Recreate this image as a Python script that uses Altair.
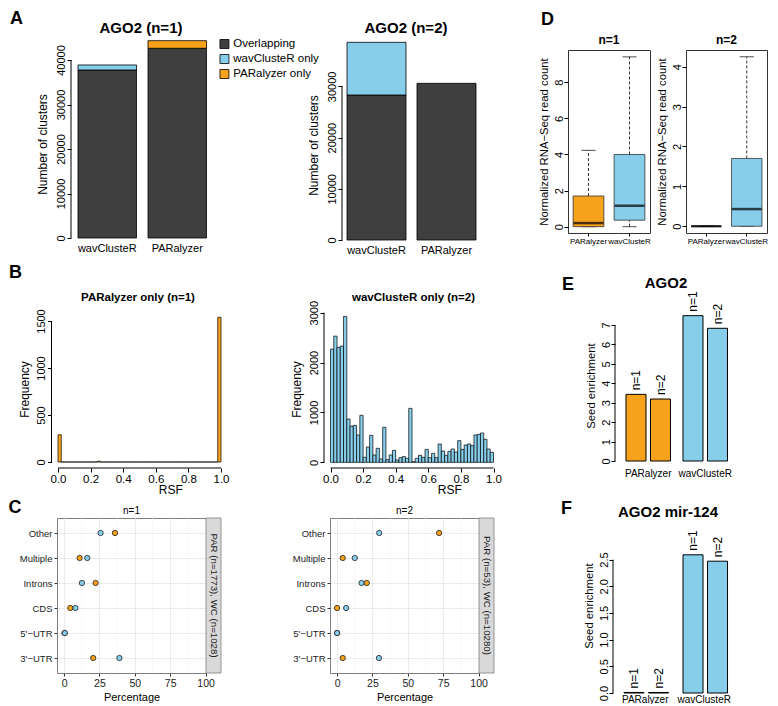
import altair as alt
import pandas as pd

FONT = "Liberation Sans"
ORANGE = "#F7A21B"
BLUE = "#87CEEB"
DARK = "#3F3F3F"

# ---------------- A: number of clusters ----------------
a_methods = ["wavClusteR", "PARalyzer"]
a_categories = ["Overlapping", "wavClusteR only", "PARalyzer only"]
a1_overlapping = [37750, 42630]
a1_wav_only = [1130, 0]
a1_par_only = [0, 1710]
a2_overlapping = [28320, 30600]
a2_wav_only = [10290, 0]
a2_par_only = [0, 0]
a1_yticks = [0, 10000, 20000, 30000, 40000]
a2_yticks = [0, 10000, 20000, 30000]

# ---------------- B: RSF histograms ----------------
b_bin_width = 0.02
b1_counts = [290, 0, 0, 0, 0, 0, 0, 0, 0, 0,
             0, 0, 8, 0, 0, 0, 0, 0, 0, 0,
             0, 0, 0, 0, 0, 0, 0, 0, 0, 0,
             0, 0, 0, 0, 0, 0, 0, 0, 0, 0,
             0, 0, 0, 0, 0, 0, 0, 0, 0, 1540]
b2_counts = [2270, 2530, 2305, 2330, 2925, 868, 728, 741, 548, 942,
             100, 307, 541, 147, 281, 67, 701, 53, 147, 240,
             47, 94, 114, 80, 1082, 13, 80, 140, 100, 260,
             94, 180, 94, 367, 227, 140, 220, 267, 207, 434,
             260, 347, 367, 334, 548, 561, 588, 461, 267, 200]
b1_yticks = [0, 500, 1000, 1500]
b2_yticks = [0, 1000, 2000, 3000]
b_xticks = [0.0, 0.2, 0.4, 0.6, 0.8, 1.0]

# ---------------- C: genomic regions ----------------
c_regions = ["Other", "Multiple", "Introns", "CDS", "5'\u2212UTR", "3'\u2212UTR"]
c1_par = [36.0, 11.0, 22.3, 4.4, 0.3, 20.6]
c1_wc = [25.8, 16.4, 12.6, 8.0, 0.5, 39.1]
c2_par = [72.1, 4.0, 21.0, 0.0, 0.0, 4.0]
c2_wc = [29.8, 12.5, 17.3, 6.4, 0.0, 29.6]
c_xticks = [0, 25, 50, 75, 100]
c_minor = [12.5, 37.5, 62.5, 87.5]
c1_strip = "PAR (n=1773), WC (n=1028)"
c2_strip = "PAR (n=53), WC (n=10280)"

# ---------------- D: RNA-Seq boxplots ----------------
d_methods = ["PARalyzer", "wavClusteR"]
d1_low = [0.0, 0.0]
d1_q1 = [0.0, 0.36]
d1_median = [0.2, 1.16]
d1_q3 = [1.7, 4.0]
d1_high = [4.23, 9.41]
d2_low = [0.0, 0.0]
d2_q1 = [0.0, 0.0]
d2_median = [0.0, 0.43]
d2_q3 = [0.0, 1.7]
d2_high = [0.0, 4.25]
d1_yticks = [0, 2, 4, 6, 8]
d2_yticks = [0, 1, 2, 3, 4]

# ---------------- E/F: seed enrichment ----------------
ef_methods = ["PARalyzer", "wavClusteR"]
ef_runs = ["n=1", "n=2"]
e_par = [3.43, 3.19]
e_wav = [7.48, 6.83]
f_par = [0.01, 0.01]
f_wav = [2.59, 2.47]
e_yticks = [0, 1, 2, 3, 4, 5, 6, 7]
f_yticks = [0.0, 0.5, 1.0, 1.5, 2.0, 2.5]


def y_axis(title, values, fmt=None, title_pad=4, label_size=11, title_size=12,
           offset=0, tick=4, label_pad=1):
    kw = dict(title=title, values=values, domain=False, grid=False, ticks=True,
              tickSize=tick, tickColor="black", tickWidth=1, labelAngle=-90,
              labelAlign="center", labelBaseline="bottom", labelPadding=label_pad,
              labelFontSize=label_size, labelColor="black", labelFlush=False,
              labelOverlap=False, titleFontSize=title_size, titleFontWeight="normal",
              titleColor="black", titlePadding=title_pad, offset=offset)
    if fmt:
        kw["format"] = fmt
    return alt.Axis(**kw)


def text_mark(txt, x, y, size, weight="bold", align="center", baseline="alphabetic"):
    return alt.Chart(pd.DataFrame({"t": [txt]})).mark_text(
        fontSize=size, fontWeight=weight, align=align, baseline=baseline, color="black"
    ).encode(text="t:N", x=alt.value(x), y=alt.value(y))


def letter(ch, x, y):
    return text_mark(ch, x, y, 18, "bold", "left", "top")


def y_line(lo, hi, scale, axis, xpx=0):
    return alt.Chart(pd.DataFrame({"lo": [lo], "hi": [hi]})).mark_rule(
        color="black", strokeWidth=1
    ).encode(x=alt.value(xpx), y=alt.Y("lo:Q", scale=scale, axis=axis), y2="hi:Q")


# ---------------- panel builders ----------------
def panel_a(overl, wav, par, yticks, title, title_x, width, height, ymax, band,
            axis_shift, legend_x=None, letter_spec=None):
    rows = []
    for i, m in enumerate(a_methods):
        for k, vals in enumerate([overl, wav, par]):
            if vals[i] > 0:
                rows.append({"method": m, "category": a_categories[k],
                             "value": vals[i], "order": k})
    df = pd.DataFrame(rows)
    ys = alt.Scale(domain=[0, ymax], nice=False, zero=False)
    xs = alt.Scale(domain=a_methods, paddingInner=band[0], paddingOuter=band[1], align=band[2])
    yax = y_axis("Number of clusters", yticks, fmt="d", title_pad=5.5, offset=-axis_shift)
    if legend_x is not None:
        legend = alt.Legend(title=None, orient="none", legendX=legend_x, legendY=-11.75,
                            direction="vertical", symbolType="square", symbolSize=81,
                            symbolStrokeColor="black", symbolStrokeWidth=0.8,
                            labelFontSize=11.5, labelColor="black", labelOffset=3,
                            rowPadding=2, padding=0, symbolOffset=0, labelLimit=200)
    else:
        legend = None
    bars = alt.Chart(df).mark_bar(stroke="black", strokeWidth=0.8).encode(
        x=alt.X("method:N", scale=xs,
                axis=alt.Axis(title=None, labelAngle=0, ticks=False, domain=False,
                              labelPadding=4, labelFontSize=11, labelColor="black")),
        y=alt.Y("value:Q", stack="zero", scale=ys, axis=yax),
        color=alt.Color("category:N",
                        scale=alt.Scale(domain=a_categories, range=[DARK, BLUE, ORANGE]),
                        legend=legend),
        order=alt.Order("order:Q", sort="ascending"),
    )
    layers = [bars, y_line(yticks[0], yticks[-1], ys, yax, xpx=axis_shift),
              text_mark(title, title_x, -17, 15)]
    if letter_spec:
        layers.append(letter(*letter_spec))
    return alt.layer(*layers).properties(width=width, height=height)


b_starts = [round(i * b_bin_width, 2) for i in range(len(b1_counts))]
b_ends = [round(s + b_bin_width, 2) for s in b_starts]


def panel_b(counts, color, yticks, title, title_x, width, height, xdom, ydom, axis_shift,
            letter_spec=None):
    df = pd.DataFrame({"start": b_starts, "end": b_ends, "count": counts})
    xs = alt.Scale(domain=xdom, nice=False, zero=False)
    ys = alt.Scale(domain=ydom, nice=False, zero=False)
    xax = alt.Axis(title="RSF", values=b_xticks, format=".1f", domain=False,
                   grid=False, tickSize=4, tickColor="black", labelPadding=1,
                   labelFontSize=11.5, labelColor="black", labelFlush=False,
                   labelOverlap=False, titleFontSize=12,
                   titleFontWeight="normal", titleColor="black", titlePadding=0)
    yax = y_axis("Frequency", yticks, fmt="d", title_pad=4.5, offset=-axis_shift)
    bars = alt.Chart(df).mark_bar(fill=color, stroke="black", strokeWidth=0.7).encode(
        x=alt.X("start:Q", scale=xs, axis=xax),
        x2="end:Q",
        y=alt.Y("count:Q", stack=None, scale=ys, axis=yax),
        y2=alt.datum(0),
    )
    x_line = alt.Chart(pd.DataFrame({"start": [b_xticks[0]], "end": [b_xticks[-1]]})).mark_rule(
        color="black", strokeWidth=1
    ).encode(x=alt.X("start:Q", scale=xs, axis=xax), x2="end:Q", y=alt.value(height))
    layers = [bars, y_line(yticks[0], yticks[-1], ys, yax, xpx=axis_shift), x_line,
              text_mark(title, title_x, -9, 11.5)]
    if letter_spec:
        layers.append(letter(*letter_spec))
    return alt.layer(*layers).properties(width=width, height=height)


def panel_c(par, wc, strip, title, width, height, letter_spec=None):
    xs = alt.Scale(domain=[-5, 100.3], nice=False, zero=False)
    ys = alt.Scale(domain=c_regions, padding=0.6)
    xaxis = alt.Axis(title="Percentage", values=c_xticks, grid=True, gridColor="#EBEBEB",
                     gridWidth=1, domain=False, tickSize=3, tickColor="#333333",
                     labelPadding=2, labelFontSize=10.5, labelColor="#222222",
                     labelFlush=False, labelOverlap=False, titleFontSize=11,
                     titleFontWeight="normal", titleColor="black", titlePadding=3)
    yaxis = alt.Axis(title=None, grid=True, gridColor="#EBEBEB", gridWidth=1, domain=False,
                     tickSize=3, tickColor="#333333", labelPadding=2, labelFontSize=9.5,
                     labelColor="#222222")
    minor = alt.Chart(pd.DataFrame({"pct": c_minor})).mark_rule(
        color="#F4F4F4", strokeWidth=0.6).encode(x=alt.X("pct:Q", scale=xs, axis=xaxis))
    df_par = pd.DataFrame({"region": c_regions, "pct": par})
    df_wc = pd.DataFrame({"region": c_regions, "pct": wc})
    pts_par = alt.Chart(df_par).mark_circle(
        size=28, opacity=1, fill=ORANGE, stroke="#222222", strokeWidth=0.8
    ).encode(x=alt.X("pct:Q", scale=xs, axis=xaxis),
             y=alt.Y("region:N", scale=ys, axis=yaxis))
    pts_wc = alt.Chart(df_wc).mark_circle(
        size=28, opacity=1, fill=BLUE, stroke="#222222", strokeWidth=0.8
    ).encode(x=alt.X("pct:Q", scale=xs, axis=xaxis),
             y=alt.Y("region:N", scale=ys, axis=yaxis))
    strip_df = pd.DataFrame({"t": [strip]})
    strip_rect = alt.Chart(strip_df).mark_rect(
        fill="#D9D9D9", stroke="#7F7F7F", strokeWidth=0.8
    ).encode(x=alt.value(width), x2=alt.value(width + 15), y=alt.value(0), y2=alt.value(height))
    strip_text = alt.Chart(strip_df).mark_text(
        angle=90, fontSize=9.7, color="#1A1A1A", align="center", baseline="middle"
    ).encode(text="t:N", x=alt.value(width + 7.5), y=alt.value(height / 2))
    layers = [minor, pts_par, pts_wc, strip_rect, strip_text,
              text_mark(title, width / 2, -3.7, 10, "normal")]
    if letter_spec:
        layers.append(letter(*letter_spec))
    return alt.layer(*layers).properties(
        width=width, height=height,
        view=alt.ViewBackground(stroke="#7F7F7F", strokeWidth=1, fill="white"))


def panel_d(low, q1, med, q3, high, yticks, ydom, title, width, height, letter_spec=None):
    df = pd.DataFrame({"method": d_methods, "low": low, "q1": q1, "med": med,
                       "q3": q3, "high": high})
    xs = alt.Scale(domain=d_methods, paddingInner=0.25, paddingOuter=0.125)
    ys = alt.Scale(domain=ydom, nice=False, zero=False)
    x_axis = alt.Axis(title=None, labelAngle=0, domain=False, ticks=True, tickSize=3,
                      tickColor="black", labelPadding=1, labelFontSize=8, labelColor="black")
    yax = y_axis("Normalized RNA\u2212Seq read count", yticks, title_pad=4,
                 label_size=11, title_size=11.3, label_pad=0)
    base = alt.Chart(df)
    X = alt.X("method:N", scale=xs, axis=x_axis)

    def Y(field):
        return alt.Y(field, scale=ys, axis=yax)

    whisk_hi = base.mark_rule(color="black", strokeWidth=0.8, strokeDash=[3, 2]).encode(
        x=X, y=Y("q3:Q"), y2="high:Q")
    whisk_lo = base.mark_rule(color="black", strokeWidth=0.8, strokeDash=[3, 2]).encode(
        x=X, y=Y("low:Q"), y2="q1:Q")
    cap_hi = base.mark_tick(orient="horizontal", size=14, thickness=1, color="black").encode(
        x=X, y=Y("high:Q"))
    cap_lo = base.mark_tick(orient="horizontal", size=14, thickness=1, color="black").encode(
        x=X, y=Y("low:Q"))
    box = base.mark_bar(stroke="#333333", strokeWidth=0.8).encode(
        x=X, y=Y("q1:Q"), y2="q3:Q",
        color=alt.Color("method:N", scale=alt.Scale(domain=d_methods, range=[ORANGE, BLUE]),
                        legend=None))
    med_t = base.mark_tick(orient="horizontal", size=30, thickness=2.5, color="black").encode(
        x=X, y=Y("med:Q"))
    layers = [whisk_hi, whisk_lo, cap_hi, cap_lo, box, med_t,
              text_mark(title, width / 2, -6, 12)]
    if letter_spec:
        layers.append(letter(*letter_spec))
    return alt.layer(*layers).properties(
        width=width, height=height,
        view=alt.ViewBackground(stroke="#333333", strokeWidth=1))


def panel_ef(par, wav, yticks, yfmt, ymax, title, title_x, title_y, width, height, band,
             band_off, axis_shift, xlabel_pad, letter_spec=None):
    df = pd.DataFrame({"method": [ef_methods[0]] * 2 + [ef_methods[1]] * 2,
                       "run": ef_runs * 2, "value": par + wav})
    xs = alt.Scale(domain=ef_methods, paddingInner=band[0], paddingOuter=band[1], align=band[2])
    xo = alt.Scale(domain=ef_runs, paddingInner=band_off, paddingOuter=0)
    ys = alt.Scale(domain=[0, ymax], nice=False, zero=False)
    xax = alt.Axis(title=None, labelAngle=0, ticks=False, domain=False,
                   labelPadding=xlabel_pad, labelFontSize=10, labelColor="black")
    yax = y_axis("Seed enrichment", yticks, fmt=yfmt, title_pad=3.5, label_pad=0,
                 offset=-axis_shift, title_size=11.3)
    bars = alt.Chart(df).mark_bar(stroke="black", strokeWidth=1).encode(
        x=alt.X("method:N", scale=xs, axis=xax),
        xOffset=alt.XOffset("run:N", scale=xo),
        y=alt.Y("value:Q", stack=None, scale=ys, axis=yax),
        color=alt.Color("method:N", scale=alt.Scale(domain=ef_methods, range=[ORANGE, BLUE]),
                        legend=None),
    )
    labels = alt.Chart(df).mark_text(
        angle=270, align="left", baseline="middle", dx=4, fontSize=12, color="black"
    ).encode(x=alt.X("method:N", scale=xs, axis=xax),
             xOffset=alt.XOffset("run:N", scale=xo),
             y=alt.Y("value:Q", stack=None, scale=ys, axis=yax), text="run:N")
    layers = [bars, labels, y_line(yticks[0], yticks[-1], ys, yax, xpx=axis_shift),
              text_mark(title, title_x, title_y, 15)]
    if letter_spec:
        layers.append(letter(*letter_spec))
    return alt.layer(*layers).properties(width=width, height=height)


# ---------------- assemble ----------------
# row 1 (plot origins: 49, 334, 560, 678)
a_left = panel_a(a1_overlapping, a1_wav_only, a1_par_only, a1_yticks, "AGO2 (n=1)", 84,
                 249, 188, 188 / 4.45 * 1000, (0.164, 0.8605, 0.1743), 14,
                 legend_x=161.7, letter_spec=("A", -47, -40))
a_right = panel_a(a2_overlapping, a2_wav_only, a2_par_only, a2_yticks, "AGO2 (n=2)", 64,
                  190, 190, 190 / 5.12 * 1000, (0.157, 0.4357, 0.082), 0)
d_left = panel_d(d1_low, d1_q1, d1_median, d1_q3, d1_high, d1_yticks, [-0.35, 9.79],
                 "n=1", 82, 183, ("D", -27, -39.5))
d_right = panel_d(d2_low, d2_q1, d2_median, d2_q3, d2_high, d2_yticks, [-0.17, 4.42],
                  "n=2", 81, 183)

# row 2 (plot origins: 49, 315.5, 606)
b_left = panel_b(b1_counts, ORANGE, b1_yticks, "PARalyzer only (n=1)", 81, 226.5, 158,
                 [-1 / 163, 225.5 / 163], [-63.8, 1617], -5.5, ("B", -48, -46.5))
b_right = panel_b(b2_counts, BLUE, b2_yticks, "wavClusteR only (n=2)", 89.5, 250.5, 158,
                  [-0.03988, 1.4969], [-114, 3054], 0)
e_panel = panel_ef(e_par, e_wav, e_yticks, None, 151 / 19.43, "AGO2", 51, -22, 130, 151,
                   (0.219, 0.25, 0.386), 0.184, 0, 7, ("E", -53, -34.5))

# row 3 (plot origins: 49, 322, 595)
c_left = panel_c(c1_par, c1_wc, c1_strip, "n=1", 149, 155, ("C", -48.5, -19.5))
c_right = panel_c(c2_par, c2_wc, c2_strip, "n=2", 149, 155)
f_panel = panel_ef(f_par, f_wav, f_yticks, ".1f", 175 / 53.36, "AGO2 mir-124", 65, -1,
                   135, 175, (0.28, 0.284, 0.627), 0.19, 10, 1, ("F", -42, -18.5))

row1 = alt.hconcat(a_left, a_right, d_left, d_right, spacing=36,
                   bounds="flush").resolve_scale(color="independent")
row2 = alt.hconcat(b_left, b_right, e_panel, spacing=40,
                   bounds="flush").resolve_scale(color="independent")
row3 = alt.hconcat(c_left, c_right, f_panel, spacing=124,
                   bounds="flush").resolve_scale(color="independent")

top = alt.vconcat(row1, row2, spacing=8).resolve_scale(color="independent")
chart = alt.vconcat(top, row3, spacing=2).resolve_scale(color="independent").properties(
    padding={"top": 2, "left": 0, "right": 0, "bottom": 0}
).configure(font=FONT).configure_view(strokeWidth=0)

chart.save("out.html", embed_options={"renderer": "svg", "actions": False})
